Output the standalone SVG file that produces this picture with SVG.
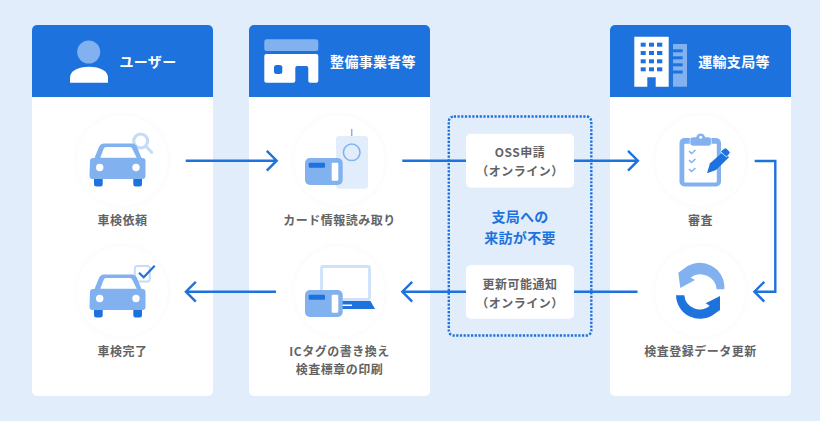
<svg xmlns="http://www.w3.org/2000/svg" width="820" height="421" viewBox="0 0 820 421">
<style>
text{font-family:"Noto Sans CJK JP","Noto Sans",sans-serif;text-anchor:middle}
.h{fill:#fff;font-size:14px;font-weight:700;letter-spacing:.3px}
.l{fill:#636363;font-size:12px;font-weight:700;letter-spacing:.5px}
.b{fill:#1d72de;font-size:14px;font-weight:700;letter-spacing:.3px}
.a{fill:none;stroke:#1d72de;stroke-width:2.400}
.p{fill:#82b1f0}.d{fill:#1d72de}.w{fill:#fff}.c{fill:#fff;filter:url(#s)}
</style>
<defs>
<filter id="s" x="-20%" y="-20%" width="140%" height="140%"><feDropShadow dx="0" dy="0" stdDeviation="3" flood-color="#000" flood-opacity=".035"/></filter>
<g id="car">
<rect x="94" y="176" width="8.700" height="10.500" rx="2.500" class="d"/><rect x="133.300" y="176" width="8.700" height="10.500" rx="2.500" class="d"/>
<path d="M90 161a3 3 0 0 1 3-3h1.500l4.500-11a6 6 0 0 1 5-3.500h28a6 6 0 0 1 5 3.500l4.500 11h1a3 3 0 0 1 3 3v15a3 3 0 0 1-3 3h-50a3 3 0 0 1-3-3z" class="p"/>
<path d="M100.300 157.700l3.400-9a2.500 2.500 0 0 1 2.300-1.800h24a2.500 2.500 0 0 1 2.300 1.800l4.400 9z" class="w"/>
<circle cx="99.700" cy="167.500" r="3.700" class="w"/><circle cx="136" cy="167.500" r="3.700" class="w"/>
</g>
<g id="tagcard">
<rect x="305" y="0" width="37.700" height="27" rx="5" class="p"/>
<rect x="308.700" y="4.700" width="16.300" height="5" rx="1" class="d"/>
<rect x="331.700" y="4.700" width="6.600" height="18" rx="1" class="w"/>
</g>
</defs>
<rect width="820" height="421" fill="#e1edfa"/>

<g id="panel-user">
<rect x="32" y="25" width="181" height="371" rx="5" class="w"/>
<path d="M32 97V30a5 5 0 0 1 5-5h171a5 5 0 0 1 5 5v67z" class="d"/>
<circle cx="88.700" cy="52" r="11.500" class="p"/>
<path d="M70 82.700v-5c0-7 8-11 19-11s19 4 19 11v5z" class="w"/>
<text x="148" y="67" class="h">ユーザー</text>
</g>
<g id="panel-shop">
<rect x="249" y="25" width="181" height="371" rx="5" class="w"/>
<path d="M249 97V30a5 5 0 0 1 5-5h171a5 5 0 0 1 5 5v67z" class="d"/>
<rect x="264.300" y="39.300" width="54" height="11.700" rx="2.500" class="p"/>
<path d="M266.300 54h50a2 2 0 0 1 2 2v24.700a2 2 0 0 1-2 2h-6a2 2 0 0 1-2-2V68a2 2 0 0 0-2-2h-9a2 2 0 0 0-2 2v12.700a2 2 0 0 1-2 2h-27a2 2 0 0 1-2-2V56a2 2 0 0 1 2-2z" class="w"/>
<rect x="274" y="65" width="8.300" height="9" rx="2.500" class="d"/>
<text x="373" y="67" class="h">整備事業者等</text>
</g>
<g id="panel-office">
<rect x="610" y="25" width="181" height="371" rx="5" class="w"/>
<path d="M610 97V30a5 5 0 0 1 5-5h171a5 5 0 0 1 5 5v67z" class="d"/>
<path d="M634.300 36.700h34.400v50h-13V77.300h-8.400v9.400h-13z" class="w"/>
<g class="d"><rect x="640.700" y="42.700" width="5" height="4"/><rect x="649" y="42.700" width="5" height="4"/><rect x="657" y="42.700" width="5.300" height="4"/><rect x="640.700" y="51" width="5" height="4"/><rect x="649" y="51" width="5" height="4"/><rect x="657" y="51" width="5.300" height="4"/><rect x="640.700" y="59.300" width="5" height="4"/><rect x="649" y="59.300" width="5" height="4"/><rect x="657" y="59.300" width="5.300" height="4"/><rect x="640.700" y="67.300" width="5" height="4"/><rect x="649" y="67.300" width="5" height="4"/><rect x="657" y="67.300" width="5.300" height="4"/></g>
<rect x="673" y="44" width="14" height="42.700" class="p"/>
<g class="d"><rect x="673" y="49.300" width="9.700" height="3"/><rect x="673" y="56.300" width="9.700" height="3"/><rect x="673" y="63.300" width="9.700" height="3"/><rect x="673" y="70.500" width="9.700" height="3"/></g>
<text x="734" y="67" class="h">運輸支局等</text>
</g>

<g id="node-request">
<circle cx="122.500" cy="160.500" r="45" class="c"/>
<circle cx="140.700" cy="141" r="7" fill="none" stroke="#c5dcf9" stroke-width="3.200"/>
<path d="M146 146.500l5.700 5.800" stroke="#c5dcf9" stroke-width="3.200" stroke-linecap="round"/>
<use href="#car"/>
<text x="122.500" y="224.500" class="l">車検依頼</text>
</g>
<g id="node-done">
<circle cx="122.500" cy="291.500" r="45" class="c"/>
<rect x="134.800" y="266" width="15" height="15.500" rx="2.500" fill="#fff" stroke="#c5dcf9" stroke-width="2"/>
<use href="#car" y="131"/>
<path d="M139 272.700l4.700 4.600 11-11.600" fill="none" stroke="#1d72de" stroke-width="2.200"/>
<text x="122.500" y="355.500" class="l">車検完了</text>
</g>
<g id="node-read">
<circle cx="339.500" cy="160.500" r="45" class="c"/>
<rect x="336" y="136" width="32" height="52.700" rx="3" fill="#e1edfa"/>
<path d="M351.700 129v7" stroke="#82b1f0" stroke-width="1.500"/>
<circle cx="351.700" cy="152.300" r="8.300" fill="none" stroke="#82b1f0" stroke-width="1.500"/>
<use href="#tagcard" y="158"/>
<text x="339.500" y="224.500" class="l">カード情報読み取り</text>
</g>
<g id="node-rewrite">
<circle cx="339.500" cy="291.500" r="45" class="c"/>
<rect x="321.500" y="266.500" width="48" height="33" rx="1.500" fill="#fff" stroke="#cfe2fa" stroke-width="2.800"/>
<path d="M342 301h28.500l4.500 8h-33z" class="d"/>
<path d="M342 304.500h10v1.500h-10z" class="w"/>
<use href="#tagcard" y="290"/>
<text x="339.500" y="355.500" class="l">ICタグの書き換え</text>
<text x="339.500" y="373.500" class="l">検査標章の印刷</text>
</g>
<g id="node-review">
<circle cx="700.500" cy="160.500" r="45" class="c"/>
<rect x="679.500" y="138" width="41.500" height="48.500" rx="5" class="p"/>
<rect x="684.300" y="143.700" width="32.500" height="38.700" rx="1" class="w"/>
<path d="M693 137h3a4.800 4.800 0 0 1 9.400 0h3a3 3 0 0 1 3 3v3a3 3 0 0 1-3 3h-15.400a3 3 0 0 1-3-3v-3a3 3 0 0 1 3-3z" class="p" stroke="#fff" stroke-width=".6"/>
<circle cx="700.700" cy="137.200" r="1.500" class="w"/>
<path d="M689 151l2.500 2.500 4-3.500M689 160l2.500 2.500 4-3.500M689 169l2.500 2.500 4-3.500" fill="none" stroke="#82b1f0" stroke-width="1.500"/>
<path d="M707 173.300l3-10 13.300-11.600 5.700 5.600-13 12.700z" class="d"/>
<path d="M720.500 151.500l3.500-3a2 2 0 0 1 2.700 0l2.700 2.700a2 2 0 0 1 0 2.800l-3 3z" class="d" stroke="#fff" stroke-width=".8"/>
<text x="700.500" y="224.500" class="l">審査</text>
</g>
<g id="node-update">
<circle cx="700.500" cy="291.500" r="45" class="c"/>
<path d="M678.300 272.700l2 15.300 14.700-8-4.500-2.500a16.500 16.500 0 0 1 26.200 11.800h7.600a24.500 24.500 0 0 0-40.500-20.500z" class="p"/>
<path d="M676 295.300a24 24 0 0 0 39 18.200l5-3.500v-14l-14.300 7.300 4 2.500a15.500 15.500 0 0 1-25.400-10.500z" class="d"/>
<text x="700.500" y="355.500" class="l">検査登録データ更新</text>
</g>

<g id="connectors">
<path class="a" d="M185.700 160.700H276.500M266.800 150.800l9.900 9.900-9.900 9.900"/>
<path class="a" d="M276 291.700H186M195.800 281.800l-9.900 9.900 9.900 9.900"/>
<path class="a" d="M402.300 160.700H466M574 160.700H637.500M628 150.800l9.900 9.900-9.900 9.900"/>
<path class="a" d="M466 291.700H402.500M412.200 281.800l-9.900 9.900 9.900 9.900M574 291.700H637.500"/>
<path class="a" d="M754.700 161H775.300V291.700H754.500M764.300 281.800l-9.900 9.900 9.900 9.900"/>
</g>

<g id="online-box">
<rect x="448.800" y="116.500" width="142.500" height="219" rx="5" fill="none" stroke="#1d72de" stroke-width="2.400" stroke-dasharray="2.200 1.500"/>
<text x="520" y="221.500" class="b">支局への</text>
<text x="520" y="242.500" class="b">来訪が不要</text>
</g>
<g id="node-oss">
<rect x="466" y="133.700" width="108" height="54" rx="5" class="w"/>
<text x="520" y="157" class="l">OSS申請</text>
<text x="520" y="176" class="l">（オンライン）</text>
</g>
<g id="node-notice">
<rect x="466" y="265" width="108" height="53.700" rx="5" class="w"/>
<text x="520" y="288.500" class="l">更新可能通知</text>
<text x="520" y="307.500" class="l">（オンライン）</text>
</g>
</svg>
